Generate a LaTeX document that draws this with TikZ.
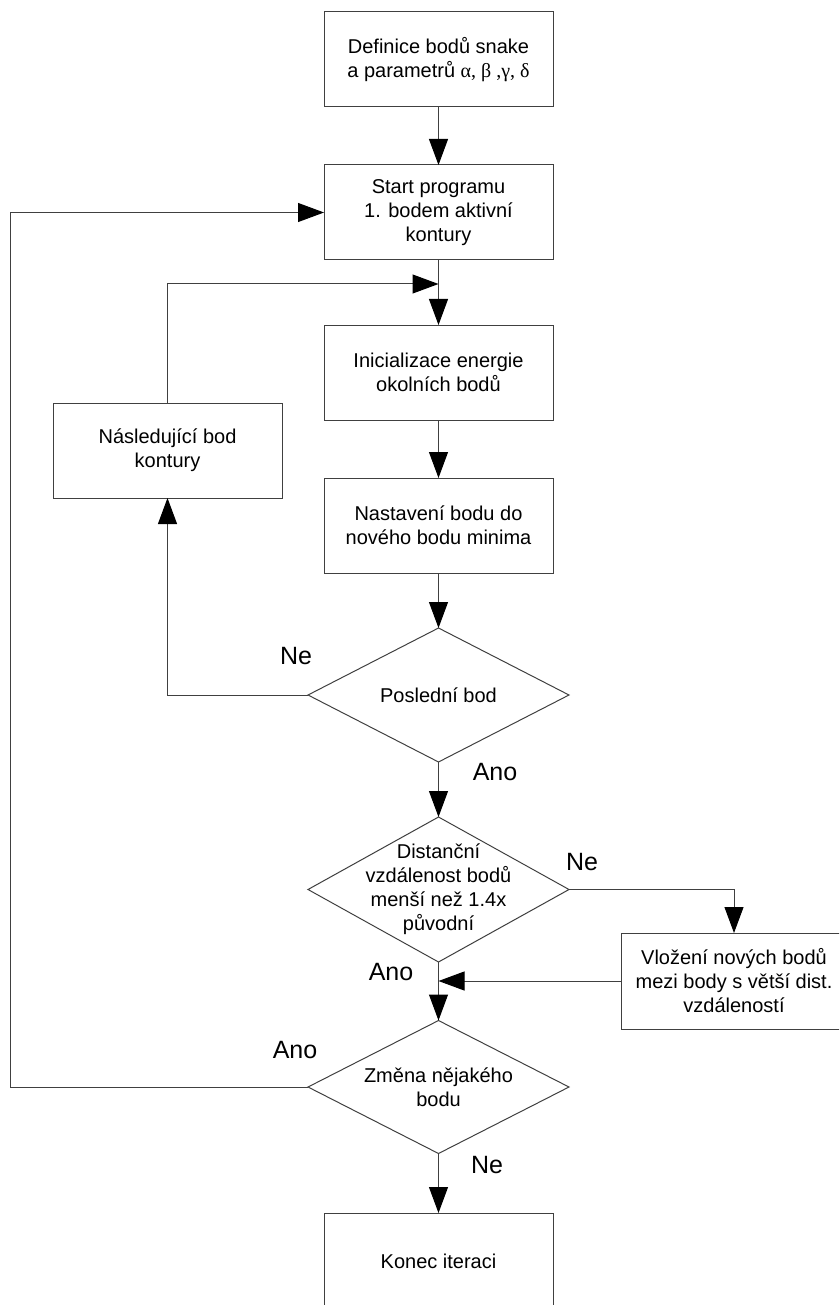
\documentclass[tikz,border=0pt]{standalone}
\usepackage{fontspec}
\setmainfont{Liberation Sans}
\newfontfamily\grfont{Liberation Serif}
\usetikzlibrary{shapes.geometric,arrows.meta}
\definecolor{linec}{RGB}{64,64,64}
\begin{document}
\begin{tikzpicture}[x=1pt,y=-1pt,
  every node/.style={font=\fontsize{20}{24}\selectfont},
  box/.style={draw=linec, line width=1pt, minimum width=229pt, minimum height=95pt, align=center, inner sep=0pt, outer sep=0pt},
  dia/.style={draw=linec, line width=1pt, diamond, minimum width=261pt, inner sep=0pt, outer sep=0pt},
  dtext/.style={align=center, inner sep=0pt},
  lbl/.style={font=\fontsize{25}{30}\selectfont, inner sep=0pt},
  arr/.style={draw=linec, line width=1pt, -{Triangle[length=26pt,width=19pt,color=black]}}]
\useasboundingbox (0,0) rectangle (839,1305);
\clip (0,0) rectangle (839,1305);

\node[box] (b1) at (438.5,59.5) {Definice bodů snake\\a parametrů {\grfont α, β ,γ, δ}};
\node[box] (b2) at (438.5,212.5) {Start programu\\1. bodem aktivní\\kontury};
\node[box] (b3) at (438.5,372.5) {Inicializace energie\\okolních bodů};
\node[box] (b4) at (438.5,525.5) {Nastavení bodu do\\nového bodu minima};
\node[box] (lb) at (167.5,450.5) {Následující bod\\kontury};
\node[dia, minimum height=134pt] (d1) at (438.5,695) {};
\node[dtext] (t1) at (d1.center) {Poslední bod};
\node[dia, minimum height=145pt] (d2) at (438.5,889.5) {};
\node[dtext] (t2) at (d2.center) {Distanční\\vzdálenost bodů\\menší než 1.4x\\původní};
\node[box, minimum width=226pt, minimum height=96pt] (rb) at (734,981) {Vložení nových bodů\\mezi body s větší dist.\\vzdáleností};
\node[dia, minimum height=133pt] (d3) at (438.5,1087) {};
\node[dtext] (t3) at (d3.center) {Změna nějakého\\bodu};
\node[box, minimum height=96pt] (fin) at (438.5,1261) {Konec iteraci};

\node[lbl] (ne1) at (296,656) {Ne};
\node[lbl] (ano1) at (495,772) {Ano};
\node[lbl] (ne2) at (582,862) {Ne};
\node[lbl] (ano2) at (391,972) {Ano};
\node[lbl] (ano3) at (295,1050) {Ano};
\node[lbl] (ne3) at (487,1165) {Ne};

\coordinate (j1) at (438.5,284);
\coordinate (j2) at (438.5,981);
\coordinate (c1) at (10,1087);

\draw[arr] (b1) -- (b2);
\draw[arr] (b2) -- (b3);
\draw[arr] (lb.north) |- (j1);
\draw[arr] (b3) -- (b4);
\draw[arr] (b4) -- (d1);
\draw[arr] (d1) -- (d2);
\draw[arr] (d1.west) -| (lb.south);
\draw[arr] (d2.east) -| (rb.north);
\draw[arr] (d2) -- (d3);
\draw[arr] (rb.west) -- (j2);
\draw[arr] (d3.west) -- (c1) |- (b2.west);
\draw[arr] (d3) -- (fin);
\end{tikzpicture}
\end{document}
